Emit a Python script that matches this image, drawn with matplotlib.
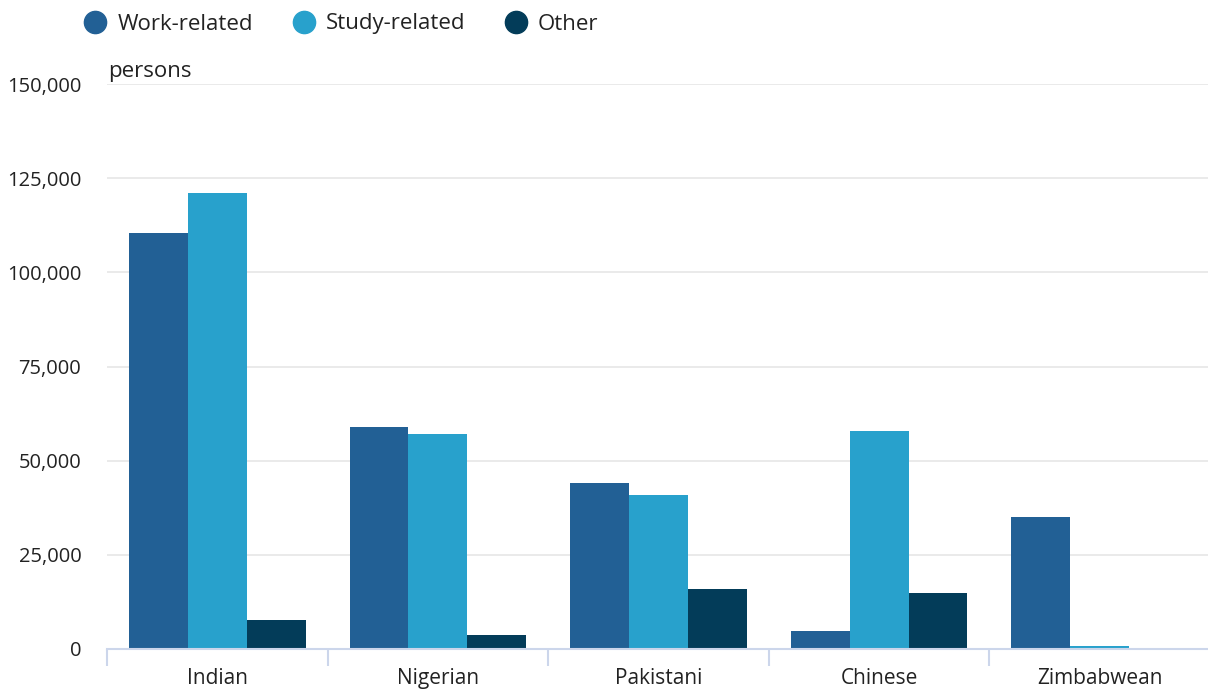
import numpy as np
import matplotlib.pyplot as plt
from matplotlib.lines import Line2D
from matplotlib.ticker import FuncFormatter

plt.rcParams['font.family'] = ['Open Sans', 'DejaVu Sans']

# Data
nationalities = ["Indian", "Nigerian", "Pakistani", "Chinese", "Zimbabwean"]
work_related = [110500, 59000, 44000, 4800, 35000]
study_related = [121000, 57000, 41000, 58000, 800]
other = [7700, 3700, 16000, 15000, 0]

series_names = ["Work-related", "Study-related", "Other"]
colors = ["#226095", "#28a1cc", "#033c59"]

fig = plt.figure(figsize=(12.08, 6.89), dpi=100)
ax = fig.add_axes([107 / 1208, 1 - 649 / 689, 1103 / 1208, 565 / 689])

x = np.arange(len(nationalities))
w = 0.8 / 3
for i, vals in enumerate([work_related, study_related, other]):
    ax.bar(x + (i - 1) * w, vals, width=w, color=colors[i], zorder=3)

ax.set_xlim(-0.5, len(nationalities) - 0.5)
ax.set_ylim(0, 150000)
ax.set_yticks(np.arange(0, 150001, 25000))
ax.yaxis.set_major_formatter(FuncFormatter(lambda v, p: f"{int(v):,}"))
ax.grid(axis="y", color="#e6e6e6", lw=1.2, zorder=0)

ax.set_xticks(x)
ax.set_xticklabels(nationalities)
ax.set_xticks(np.arange(-0.5, len(nationalities)), minor=True)
ax.tick_params(axis="x", which="major", length=0, pad=14, labelsize=15, labelcolor="#222222")
ax.tick_params(axis="x", which="minor", length=12, width=1.5, color="#ccd6eb")
ax.tick_params(axis="y", length=0, pad=18.5, labelsize=14.5, labelcolor="#222222")

for s in ["top", "right", "left"]:
    ax.spines[s].set_visible(False)
ax.spines["bottom"].set_color("#ccd6eb")
ax.spines["bottom"].set_linewidth(1.5)
ax.spines["bottom"].set_zorder(4)

fig.text(108 / 1208, 1 - 71 / 689, "persons", fontsize=16, color="#222222", va="center", ha="left")

handles = [Line2D([], [], marker="o", ls="none", markersize=16, color=c) for c in colors]
fig.legend(handles, series_names, loc="center left", bbox_to_anchor=(82 / 1208, 1 - 24 / 689),
           ncol=3, frameon=False, fontsize=16, handletextpad=0.39, columnspacing=1.68,
           borderpad=0, borderaxespad=0, handlelength=1.2, labelcolor="#222222")

fig.savefig("out.png", dpi=100)
